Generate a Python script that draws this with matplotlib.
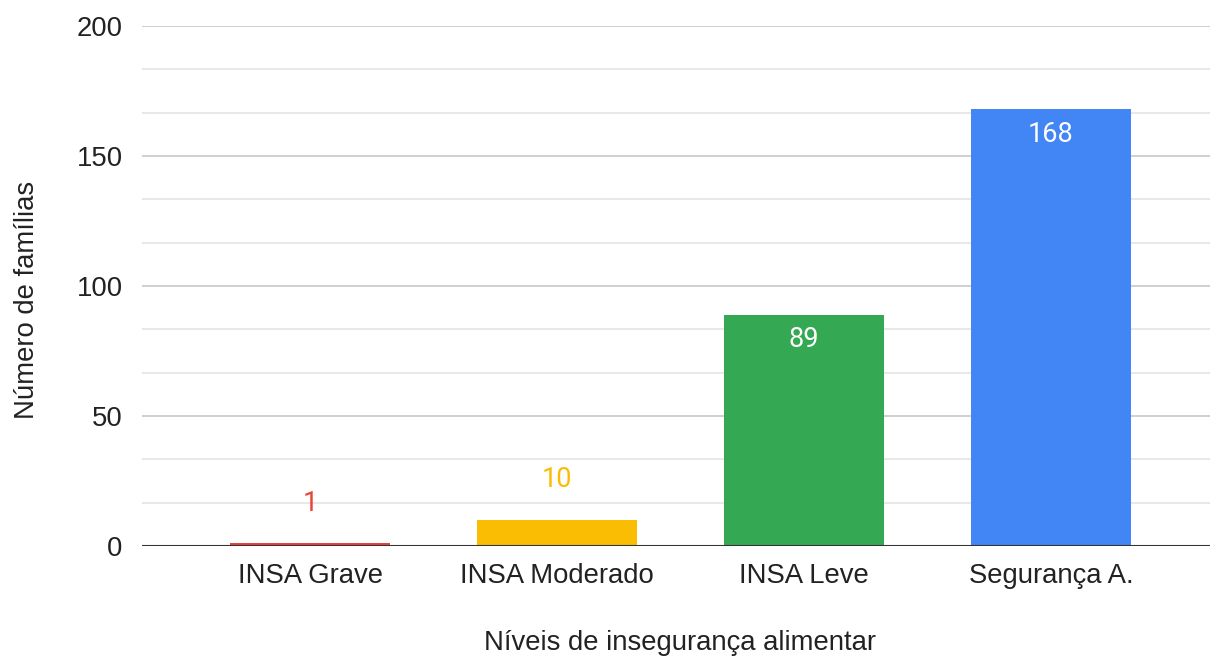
import matplotlib.pyplot as plt
from matplotlib import ticker

# Data
categories = ["INSA Grave", "INSA Moderado", "INSA Leve", "Segurança A."]
values = [1, 10, 89, 168]
colors = ["#EA4335", "#FBBC04", "#34A853", "#4285F4"]
label_colors = ["#EA4335", "#FBBC04", "white", "white"]
label_inside = [False, False, True, True]

fig = plt.figure(figsize=(12.1, 6.58), dpi=100)
ax = fig.add_axes([0.1174, 0.1702, 0.8826, 0.7903])

x = range(len(categories))
ax.bar(x, values, width=0.648, color=colors, zorder=3)

# Value labels
for i, v in enumerate(values):
    dy = -18 if label_inside[i] else 29
    ax.annotate(str(v), (i, v), xytext=(0, dy), textcoords="offset points",
                ha="center", va="center", color=label_colors[i],
                fontsize=19.5, family="Roboto", zorder=4)

# Axis formatting
ax.set_ylim(0, 200)
ax.set_xlim(-0.68, 3.644)
ax.yaxis.set_major_locator(ticker.MultipleLocator(50))
ax.yaxis.set_minor_locator(ticker.MultipleLocator(50 / 3))
ax.grid(axis="y", which="major", color="#cccccc", linewidth=1.3, zorder=0)
ax.grid(axis="y", which="minor", color="#e6e6e6", linewidth=1.3, zorder=0)
ax.axhline(0, color="#333333", linewidth=1.5, zorder=5)
for s in ax.spines.values():
    s.set_visible(False)
ax.tick_params(axis="both", which="both", length=0)
ax.tick_params(axis="y", pad=14)
ax.tick_params(axis="x", pad=12)

ax.set_xticks(list(x))
ax.set_xticklabels(categories)
for lbl in ax.get_xticklabels() + ax.get_yticklabels():
    lbl.set_fontfamily("Liberation Sans")
    lbl.set_fontsize(19.8)
    lbl.set_color("#222222")

# Axis titles placed in figure coordinates
fig.text(680 / 1210, 1 - 643 / 658, "Níveis de insegurança alimentar",
         ha="center", va="center", fontsize=19.8, family="Liberation Sans",
         color="#222222")
fig.text(27 / 1210, 1 - 300 / 658, "Número de famílias", rotation=90,
         ha="center", va="center", fontsize=19.8, family="Liberation Sans",
         color="#222222")

fig.savefig("out.png")
